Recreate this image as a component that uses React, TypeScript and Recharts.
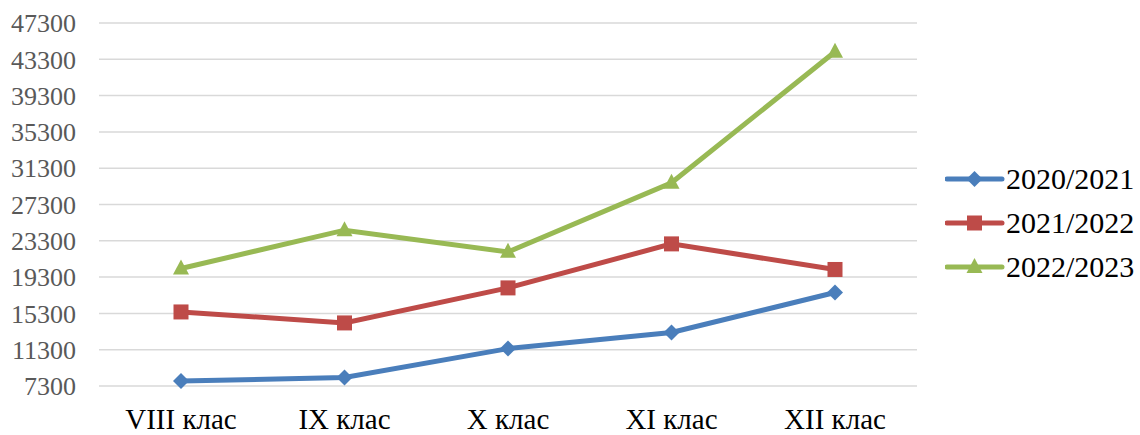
import React from 'react';
import { LineChart, Line, XAxis, YAxis, CartesianGrid } from 'recharts';

const categories = ['VIII клас', 'IX клас', 'X клас', 'XI клас', 'XII клас'];
const y2020 = [7850, 8230, 11420, 13190, 17600];
const y2021 = [15460, 14250, 18110, 22960, 20140];
const y2022 = [20250, 24470, 22080, 29690, 44140];
const yTicks = [7300, 11300, 15300, 19300, 23300, 27300, 31300, 35300, 39300, 43300, 47300];

const seriesInfo = [
  { key: 'a', name: '2020/2021', color: '#4A7EBB', shape: 'diamond' },
  { key: 'b', name: '2021/2022', color: '#BE4B48', shape: 'square' },
  { key: 'c', name: '2022/2023', color: '#98B954', shape: 'triangle' },
];

const data = categories.map((c, i) => ({ name: c, a: y2020[i], b: y2021[i], c: y2022[i] }));

const FONT = '"Liberation Serif", "DejaVu Serif", serif';

function Marker({ cx, cy, shape, color }: any) {
  if (cx == null || cy == null) return null;
  if (shape === 'diamond') {
    return <polygon points={`${cx},${cy - 8} ${cx + 8},${cy} ${cx},${cy + 8} ${cx - 8},${cy}`} fill={color} />;
  }
  if (shape === 'square') {
    return <rect x={cx - 7.5} y={cy - 7.5} width={15} height={15} fill={color} />;
  }
  return <polygon points={`${cx},${cy - 9} ${cx + 8},${cy + 6} ${cx - 8},${cy + 6}`} fill={color} />;
}

function LegendBox() {
  return (
    <div style={{ position: 'absolute', left: 945, top: 157, width: 195, fontFamily: FONT }}>
      {seriesInfo.map((s) => (
        <div key={s.key} style={{ display: 'flex', alignItems: 'center', height: 44 }}>
          <svg width={60} height={20}>
            <line x1={2} y1={10} x2={57} y2={10} stroke={s.color} strokeWidth={5} strokeLinecap="round" />
            <Marker cx={29.5} cy={10} shape={s.shape} color={s.color} />
          </svg>
          <span style={{ fontSize: 30, color: '#000', marginLeft: 1, lineHeight: 1 }}>{s.name}</span>
        </div>
      ))}
    </div>
  );
}

export default function App() {
  return (
    <div style={{ position: 'absolute', left: 0, top: 0, width: 1140, height: 435, background: '#fff' }}>
      <LineChart width={1140} height={435} data={data} margin={{ top: 23, right: 223, bottom: 0, left: 0 }}>
        <CartesianGrid horizontal vertical={false} stroke="#D9D9D9" strokeWidth={1.5} />
        <XAxis
          dataKey="name"
          height={49}
          padding={{ left: 82, right: 82 }}
          axisLine={false}
          tickLine={false}
          tickSize={0}
          tickMargin={22}
          interval={0}
          tick={{ fill: '#000', fontSize: 29, fontFamily: FONT }}
        />
        <YAxis
          width={99}
          domain={[7300, 47300]}
          ticks={yTicks}
          interval={0}
          axisLine={false}
          tickLine={false}
          tickSize={0}
          tickMargin={23}
          tick={{ fill: '#595959', fontSize: 26, fontFamily: FONT }}
        />
        {seriesInfo.map((s) => (
          <Line
            key={s.key}
            dataKey={s.key}
            name={s.name}
            stroke={s.color}
            strokeWidth={5}
            isAnimationActive={false}
            dot={(p: any) => <Marker key={`${s.key}-${p.index}`} cx={p.cx} cy={p.cy} shape={s.shape} color={s.color} />}
            activeDot={false}
          />
        ))}
      </LineChart>
      <LegendBox />
    </div>
  );
}
